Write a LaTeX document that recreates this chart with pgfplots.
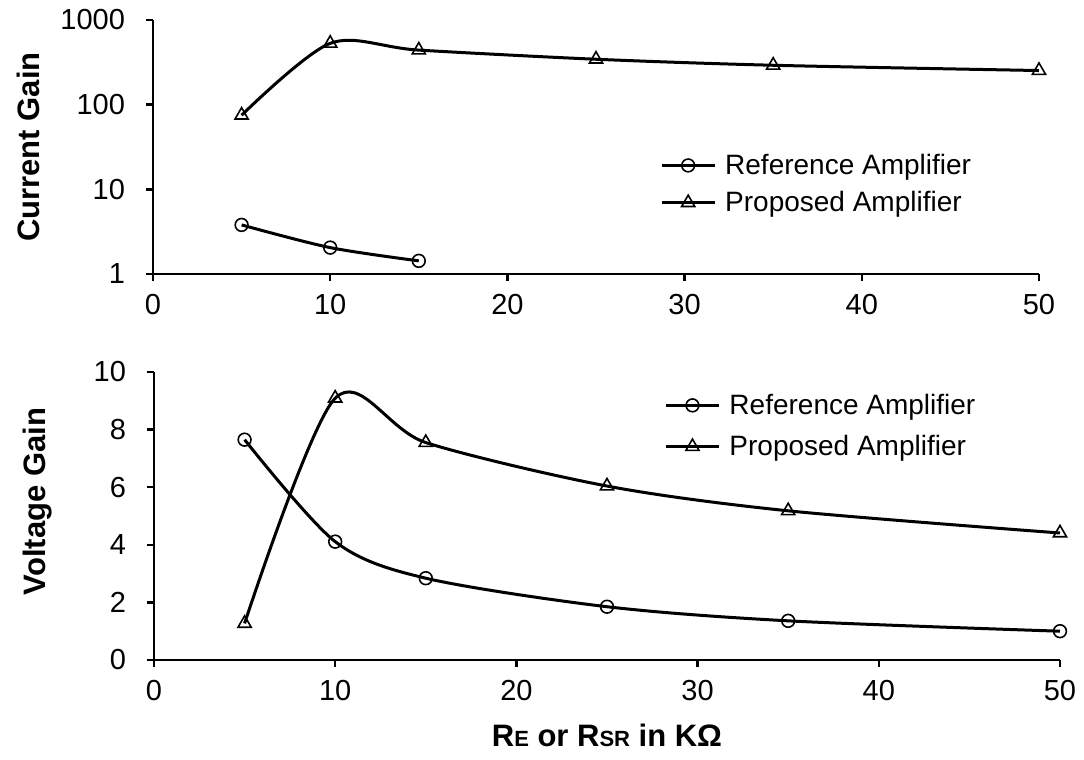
\documentclass[border=0pt]{standalone}
\usepackage{fontspec}
\setmainfont{Liberation Sans}
\usepackage{pgfplots}
\pgfplotsset{compat=1.18}

\pgfplotsset{
  gainaxis/.style={
    scale only axis,
    axis lines=left,
    axis line style={-, line width=1.2pt},
    tick align=outside,
    major tick length=3.5pt,
    every tick/.style={black, line width=1.2pt},
    xmin=0, xmax=50, xtick={0,10,...,50},
    tick label style={font=\fontsize{14.5}{16}\selectfont},
    /pgf/number format/assume math mode=true,
    /pgf/number format/1000 sep={},
    xticklabel style={yshift=-3pt},
    yticklabel style={xshift=-7pt, font=\fontsize{14.5}{16}\selectfont},
    legend style={draw=none, fill=none, font=\fontsize{14}{16}\selectfont,
      row sep=3pt, inner sep=0pt,
      /tikz/every odd column/.append style={column sep=2.5pt}},
    legend cell align=left,
    legend image code/.code={
      \draw[mark repeat=2, mark phase=2, #1]
        plot coordinates {(0pt,0pt) (13.25pt,0pt) (26.5pt,0pt)};},
    clip=false,
  },
  refline/.style={black, line width=1.5pt, smooth, mark=o,
    mark options={solid, fill=white, line width=0.8pt, scale=1.6}},
  propline/.style={black, line width=1.5pt, smooth, mark=triangle,
    mark options={solid, fill=white, line width=0.8pt, scale=1.9}},
}

\begin{document}
\begin{tikzpicture}
\useasboundingbox (-76.5pt,-243pt) rectangle (465.5pt,137pt);

% current gain (log scale)
\begin{axis}[gainaxis,
  at={(0pt,0pt)}, anchor=south west,
  width=443pt, height=127pt,
  ymode=log, ymin=1, ymax=1000,
  ytick={1,10,100,1000}, yticklabels={1,10,100,1000}, yminorticks=false,
  every axis y label/.style={at={(axis description cs:-0.141,0.5)}, rotate=90,
    anchor=center, font=\fontsize{15.5}{17}\selectfont\bfseries},
  ylabel={Current Gain},
  legend style={at={(axis description cs:0.572,0.354)}, anchor=west},
]
\addplot[refline] coordinates {(5,3.8) (10,2.05) (15,1.43)};
\addplot[propline] coordinates {(5,75) (10,530) (15,441) (25,344) (35,292) (50,253)};
\legend{Reference Amplifier, Proposed Amplifier}
\end{axis}

% voltage gain
\begin{axis}[gainaxis,
  at={(0.5pt,-193pt)}, anchor=south west,
  width=453pt, height=144pt,
  ymin=0, ymax=10, ytick={0,2,...,10},
  every axis y label/.style={at={(axis description cs:-0.128,0.55)}, rotate=90,
    anchor=center, font=\fontsize{15.5}{17}\selectfont\bfseries},
  ylabel={Voltage Gain},
  every axis x label/.style={at={(axis description cs:0.5,0)}, anchor=center,
    yshift=-37.5pt, font=\fontsize{15.5}{17}\selectfont\bfseries},
  xlabel={R{\fontsize{11}{12}\selectfont E} or R{\fontsize{11}{12}\selectfont SR} in KΩ},
  legend style={at={(axis description cs:0.563,0.8125)}, anchor=west, row sep=5pt},
]
\addplot[refline] coordinates {(5,7.65) (10,4.11) (15,2.84) (25,1.85) (35,1.36) (50,1.0)};
\addplot[propline] coordinates {(5,1.27) (10,9.09) (15,7.55) (25,6.04) (35,5.18) (50,4.41)};
\legend{Reference Amplifier, Proposed Amplifier}
\end{axis}
\end{tikzpicture}
\end{document}
